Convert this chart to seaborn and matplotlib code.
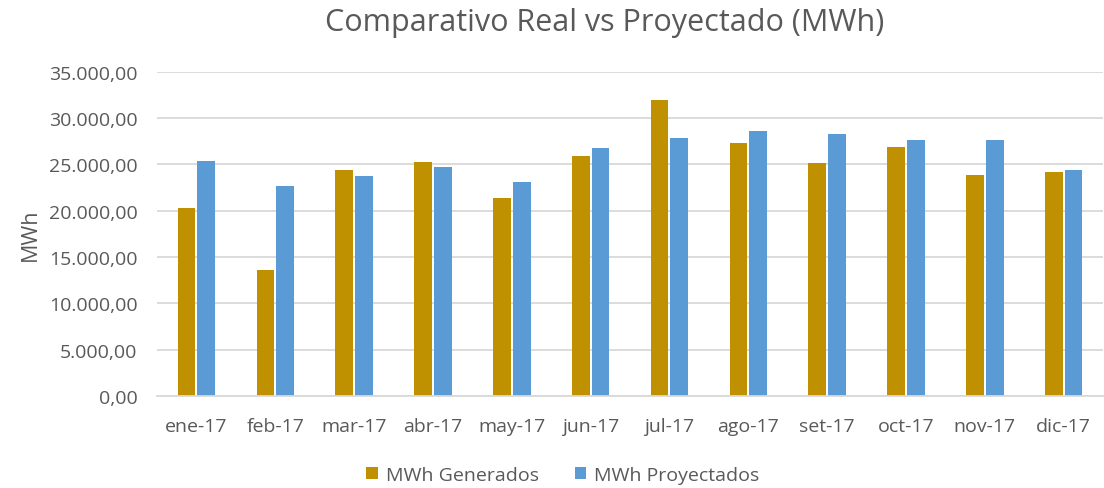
import pandas as pd
import matplotlib
matplotlib.use("Agg")
import matplotlib.pyplot as plt
import seaborn as sns
from matplotlib.ticker import FuncFormatter

# datos
meses = ["ene-17", "feb-17", "mar-17", "abr-17", "may-17", "jun-17",
         "jul-17", "ago-17", "set-17", "oct-17", "nov-17", "dic-17"]
generados = [20250, 13650, 24450, 25250, 21400, 25900,
             31950, 27300, 25150, 26900, 23850, 24200]
proyectados = [25350, 22700, 23750, 24700, 23100, 26800,
               27850, 28650, 28300, 27650, 27650, 24450]
series = ["MWh Generados", "MWh Proyectados"]

df = pd.DataFrame({
    "mes": meses * 2,
    "valor": generados + proyectados,
    "serie": [series[0]] * len(meses) + [series[1]] * len(meses),
})

sns.set_theme(style="white")
plt.rcParams["font.family"] = ["Open Sans", "DejaVu Sans"]
gris = "#595959"

fig = plt.figure(figsize=(11.04, 4.89), dpi=100)
ax = fig.add_axes([0.1422, 0.188, 0.857, 0.663])

sns.barplot(data=df, x="mes", y="valor", hue="serie", ax=ax,
            palette=["#BF9000", "#5B9BD5"], width=0.5, gap=0.1,
            saturation=1, edgecolor="none")

ax.set_ylim(0, 35000)
ax.set_xlim(-0.5, len(meses) - 0.5)
ax.set_yticks(range(0, 35001, 5000))
ax.yaxis.set_major_formatter(FuncFormatter(
    lambda v, p: f"{v:,.2f}".replace(",", "X").replace(".", ",").replace("X", ".")))
ax.yaxis.grid(True, color="#D9D9D9", linewidth=1.3)
ax.set_axisbelow(True)
for s in ["top", "right", "left"]:
    ax.spines[s].set_visible(False)
ax.spines["bottom"].set_color("#D9D9D9")
ax.spines["bottom"].set_linewidth(1.3)
ax.tick_params(axis="both", colors=gris, labelsize=14, length=0)
ax.tick_params(axis="y", pad=14)
ax.tick_params(axis="x", pad=15)
ax.set_xlabel("")
ax.set_ylabel("MWh", color=gris, fontsize=15.5, labelpad=6)
fig.text(0.548, 0.952, "Comparativo Real vs Proyectado (MWh)", color=gris,
         fontsize=22, ha="center", va="center")

ax.legend(loc="center", bbox_to_anchor=(0.429, -0.243), ncol=2,
          frameon=False, fontsize=14, labelcolor=gris,
          handlelength=0.6, handleheight=0.6, handletextpad=0.4,
          columnspacing=1.85)

fig.savefig("out.png", dpi=100)
plt.close(fig)
